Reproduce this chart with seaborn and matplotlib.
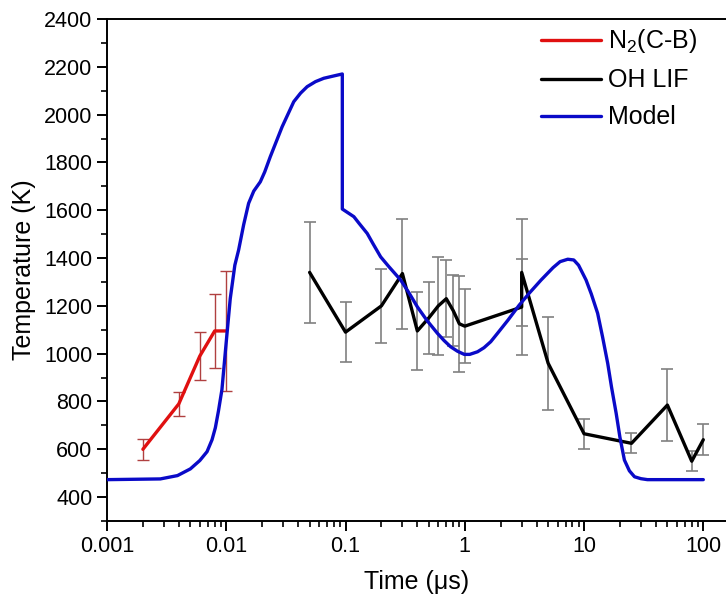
import matplotlib
matplotlib.use("Agg")
import matplotlib.pyplot as plt
import seaborn as sns
import pandas as pd
import numpy as np
from matplotlib.ticker import FixedLocator, LogLocator, NullFormatter, MultipleLocator

# ---- data ----
n2_time = [0.002, 0.004, 0.006, 0.008, 0.01]
n2_temp = [600, 790, 990, 1095, 1095]
n2_err = [45, 50, 100, 155, 250]

oh_time = [0.05, 0.1, 0.2, 0.3, 0.4, 0.5, 0.6, 0.7, 0.8, 0.9, 1.0, 3.0, 3.0, 5, 10, 25, 50, 80, 100]
oh_temp = [1340, 1090, 1200, 1335, 1095, 1150, 1200, 1230, 1180, 1125, 1115, 1195, 1340, 960, 665, 625, 785, 550, 640]
oh_err = [210, 125, 155, 230, 165, 150, 205, 160, 150, 200, 155, 200, 225, 195, 62, 42, 150, 42, 65]

model_time = [0.001, 0.0028, 0.0039, 0.005, 0.006, 0.0069, 0.0076, 0.0081, 0.0086, 0.0092,
              0.0100, 0.0108, 0.0118, 0.0127, 0.014, 0.0154, 0.017, 0.0193, 0.021, 0.0234,
              0.0294, 0.0368, 0.042, 0.0477, 0.056, 0.0657, 0.08, 0.094,
              0.094, 0.1175, 0.13, 0.152, 0.17, 0.197, 0.23, 0.29, 0.34, 0.40,
              0.48, 0.59, 0.67, 0.76, 0.87, 0.99, 1.1, 1.28, 1.45, 1.65,
              1.88, 2.3, 2.86, 3.5, 4.36, 5.5, 6.3, 7.3, 8.2, 9.0,
              10.4, 11.5, 13.0, 14.3, 15.8, 17, 18.6, 20, 21.8, 24,
              26.5, 30, 34, 50, 100]
model_temp = [473, 476, 490, 518, 553, 590, 640, 690, 760, 850,
              1050, 1230, 1370, 1434, 1540, 1629, 1680, 1719, 1760, 1824,
              1949, 2054, 2090, 2117, 2138, 2152, 2162, 2170,
              1605, 1573, 1545, 1503, 1460, 1405, 1365, 1308, 1255, 1196,
              1140, 1085, 1055, 1029, 1010, 997, 997, 1008, 1025, 1050,
              1085, 1140, 1203, 1255, 1308, 1360, 1385, 1395, 1392, 1370,
              1308, 1250, 1169, 1070, 959, 860, 750, 650, 555, 510,
              485, 477, 473, 473, 473]

x_ticks = [0.001, 0.01, 0.1, 1, 10, 100]
x_ticklabels = ["0.001", "0.01", "0.1", "1", "10", "100"]
y_ticks = [400, 600, 800, 1000, 1200, 1400, 1600, 1800, 2000, 2200, 2400]

# ---- style ----
sns.set_style("ticks")
plt.rcParams['font.family'] = ['Liberation Sans', 'DejaVu Sans']
plt.rcParams['mathtext.fontset'] = 'custom'
plt.rcParams['mathtext.rm'] = 'Liberation Sans'
plt.rcParams['mathtext.it'] = 'Liberation Sans'
plt.rcParams['mathtext.default'] = 'regular'
plt.rcParams['text.color'] = 'black'
plt.rcParams['axes.labelcolor'] = 'black'

fig = plt.figure(figsize=(7.26, 6.08), dpi=100)
ax = fig.add_axes([107 / 726, 87 / 608, 1 - 107 / 726, (521 - 19) / 608])

red = "#e01010"
blue = "#0a0ac8"

df_n2 = pd.DataFrame({"t": n2_time, "T": n2_temp})
df_oh = pd.DataFrame({"t": oh_time, "T": oh_temp})
df_m = pd.DataFrame({"t": model_time, "T": model_temp})

ax.errorbar(n2_time, n2_temp, yerr=n2_err, fmt='none', ecolor="#b04040",
            elinewidth=1.0, capsize=4, capthick=1.0, zorder=2)
ax.errorbar(oh_time, oh_temp, yerr=oh_err, fmt='none', ecolor="#808080",
            elinewidth=1.2, capsize=4, capthick=1.2, zorder=2)

sns.lineplot(data=df_n2, x="t", y="T", ax=ax, color=red, linewidth=2.4,
             estimator=None, sort=False, label="N$_2$(C-B)", zorder=3)
sns.lineplot(data=df_oh, x="t", y="T", ax=ax, color="black", linewidth=2.4,
             estimator=None, sort=False, label="OH LIF", zorder=3)
sns.lineplot(data=df_m, x="t", y="T", ax=ax, color=blue, linewidth=2.4,
             estimator=None, sort=False, label="Model", zorder=4)

ax.set_xscale("log")
ax.set_xlim(0.001, 155)
ax.set_ylim(300, 2400)
ax.xaxis.set_major_locator(FixedLocator(x_ticks))
ax.set_xticklabels(x_ticklabels)
ax.xaxis.set_minor_locator(LogLocator(base=10, subs=np.arange(2, 10)))
ax.xaxis.set_minor_formatter(NullFormatter())
ax.yaxis.set_major_locator(FixedLocator(y_ticks))
ax.yaxis.set_minor_locator(MultipleLocator(100))

ax.tick_params(which='major', direction='out', length=7, width=1.4, labelsize=15.5,
               colors='black', labelcolor='black')
ax.tick_params(which='minor', direction='out', length=4, width=1.2, colors='black')

for side in ["left", "bottom", "top"]:
    ax.spines[side].set_linewidth(1.4)
    ax.spines[side].set_color("black")
ax.spines["right"].set_visible(False)

ax.set_xlabel("Time (\u03bcs)", fontsize=18, labelpad=10, color='black')
ax.set_ylabel("Temperature (K)", fontsize=18, labelpad=6, color='black')

leg = ax.legend(loc="upper right", bbox_to_anchor=(0.99, 1.028), frameon=False,
                fontsize=18, handlelength=2.4, handletextpad=0.28, labelspacing=0.52)
for t in leg.get_texts():
    t.set_color('black')

fig.savefig("out.png", dpi=100)
